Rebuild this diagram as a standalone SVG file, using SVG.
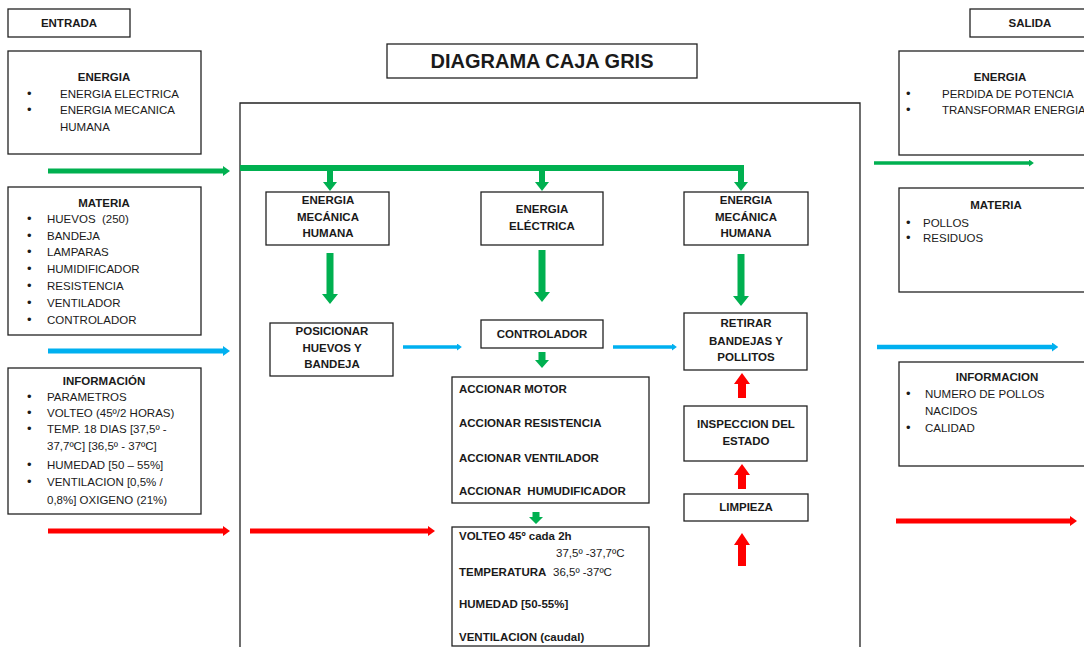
<svg xmlns="http://www.w3.org/2000/svg" width="1084" height="647" viewBox="0 0 1084 647">
<style>
.box{fill:#fff;stroke:#222;stroke-width:1.3}
.t{font-family:"Liberation Sans",Arial,sans-serif;font-size:11.5px;fill:#1a1a1a}
.u{font-family:"Liberation Sans",Arial,sans-serif;font-size:13px;fill:#1a1a1a}
.b{font-weight:bold}
.c{text-anchor:middle}
.g{stroke:#00B050;fill:none}
.bl{stroke:#00B0F0;fill:none}
.r{stroke:#FF0000;fill:none}
.gf{fill:#00B050}
.rf{fill:#FF0000}
</style>
<defs>
<marker id="mg" viewBox="0 0 10 10" refX="0" refY="5" markerWidth="1.4" markerHeight="2" orient="auto" preserveAspectRatio="none"><path d="M0,0 L10,5 L0,10 z" fill="#00B050"/></marker>
<marker id="mb" viewBox="0 0 10 10" refX="0" refY="5" markerWidth="1.4" markerHeight="2" orient="auto" preserveAspectRatio="none"><path d="M0,0 L10,5 L0,10 z" fill="#00B0F0"/></marker>
<marker id="mr" viewBox="0 0 10 10" refX="0" refY="5" markerWidth="1.4" markerHeight="2" orient="auto" preserveAspectRatio="none"><path d="M0,0 L10,5 L0,10 z" fill="#FF0000"/></marker>
</defs>
<rect width="1084" height="647" fill="#fff"/>

<g id="title"><rect class="box" x="387" y="44" width="310" height="34"/><text class="t b c" x="542" y="68" style="font-size:20px">DIAGRAMA CAJA GRIS</text></g>
<g id="entrada"><rect class="box" x="8" y="9" width="122" height="28"/><text class="t b c" x="69" y="27">ENTRADA</text></g>
<g id="salida"><rect class="box" x="970" y="9" width="122" height="28"/><text class="t b c" x="1030" y="27">SALIDA</text></g>

<g id="in-energia"><rect class="box" x="8" y="51" width="193" height="103"/>
<text class="t b c" x="104" y="81">ENERGIA</text>
<text class="u" x="27" y="98">•</text><text class="t" x="60" y="98">ENERGIA ELECTRICA</text>
<text class="u" x="27" y="114">•</text><text class="t" x="60" y="114">ENERGIA MECANICA</text>
<text class="t" x="60" y="131">HUMANA</text></g>

<g id="in-materia"><rect class="box" x="8" y="187" width="193" height="148"/>
<text class="t b c" x="104" y="207">MATERIA</text>
<text class="u" x="27" y="223">•</text><text class="t" x="47" y="223" xml:space="preserve">HUEVOS  (250)</text>
<text class="u" x="27" y="240">•</text><text class="t" x="47" y="240">BANDEJA</text>
<text class="u" x="27" y="256">•</text><text class="t" x="47" y="256">LAMPARAS</text>
<text class="u" x="27" y="273">•</text><text class="t" x="47" y="273">HUMIDIFICADOR</text>
<text class="u" x="27" y="290">•</text><text class="t" x="47" y="290">RESISTENCIA</text>
<text class="u" x="27" y="307">•</text><text class="t" x="47" y="307">VENTILADOR</text>
<text class="u" x="27" y="324">•</text><text class="t" x="47" y="324">CONTROLADOR</text></g>

<g id="in-info"><rect class="box" x="8" y="368" width="193" height="146"/>
<text class="t b c" x="104" y="385">INFORMACIÓN</text>
<text class="u" x="27" y="401">•</text><text class="t" x="47" y="401">PARAMETROS</text>
<text class="u" x="27" y="417">•</text><text class="t" x="47" y="417">VOLTEO (45º/2 HORAS)</text>
<text class="u" x="27" y="433">•</text><text class="t" x="47" y="433">TEMP. 18 DIAS [37,5º -</text>
<text class="t" x="47" y="450">37,7ºC] [36,5º - 37ºC]</text>
<text class="u" x="27" y="469">•</text><text class="t" x="47" y="469">HUMEDAD [50 – 55%]</text>
<text class="u" x="27" y="486">•</text><text class="t" x="47" y="486">VENTILACION [0,5% /</text>
<text class="t" x="47" y="504">0,8%] OXIGENO (21%)</text></g>

<g id="caja"><path d="M240,660 V103 H860 V660" fill="none" stroke="#222" stroke-width="1.3"/></g>

<g id="emh1"><rect class="box" x="266" y="192" width="123" height="53"/>
<text class="t b c" x="328" y="204">ENERGIA</text><text class="t b c" x="328" y="221">MECÁNICA</text><text class="t b c" x="328" y="237">HUMANA</text></g>
<g id="ee"><rect class="box" x="481" y="192" width="122" height="53"/>
<text class="t b c" x="542" y="213">ENERGIA</text><text class="t b c" x="542" y="230">ELÉCTRICA</text></g>
<g id="emh2"><rect class="box" x="684" y="192" width="124" height="53"/>
<text class="t b c" x="746" y="204">ENERGIA</text><text class="t b c" x="746" y="221">MECÁNICA</text><text class="t b c" x="746" y="237">HUMANA</text></g>
<g id="posicionar"><rect class="box" x="270" y="323" width="123" height="53"/>
<text class="t b c" x="332" y="335">POSICIONAR</text><text class="t b c" x="332" y="352">HUEVOS Y</text><text class="t b c" x="332" y="368">BANDEJA</text></g>
<g id="controlador"><rect class="box" x="481" y="320" width="122" height="28"/>
<text class="t b c" x="542" y="338">CONTROLADOR</text></g>
<g id="accionar"><rect class="box" x="452" y="377" width="197" height="126"/>
<text class="t b" x="459" y="393">ACCIONAR MOTOR</text>
<text class="t b" x="459" y="427">ACCIONAR RESISTENCIA</text>
<text class="t b" x="459" y="462">ACCIONAR VENTILADOR</text>
<text class="t b" x="459" y="495" xml:space="preserve">ACCIONAR  HUMUDIFICADOR</text></g>
<g id="parametros"><rect class="box" x="452" y="527" width="197" height="119"/>
<text class="t b" x="459" y="540">VOLTEO 45º cada 2h</text>
<text class="t" x="556" y="557">37,5º -37,7ºC</text>
<text class="t b" x="459" y="576">TEMPERATURA</text><text class="t" x="553" y="576">36,5º -37ºC</text>
<text class="t b" x="459" y="608">HUMEDAD [50-55%]</text>
<text class="t b" x="459" y="641">VENTILACION (caudal)</text></g>
<g id="retirar"><rect class="box" x="684" y="313" width="123" height="57"/>
<text class="t b c" x="746" y="327">RETIRAR</text><text class="t b c" x="746" y="345">BANDEJAS Y</text><text class="t b c" x="746" y="361">POLLITOS</text></g>
<g id="inspeccion"><rect class="box" x="684" y="406" width="123" height="55"/>
<text class="t b c" x="746" y="428">INSPECCION DEL</text><text class="t b c" x="746" y="445">ESTADO</text></g>
<g id="limpieza"><rect class="box" x="684" y="494" width="124" height="27"/>
<text class="t b c" x="746" y="511">LIMPIEZA</text></g>

<g id="out-energia"><rect class="box" x="899" y="51" width="200" height="104"/>
<text class="t b c" x="1000" y="81">ENERGIA</text>
<text class="u" x="906" y="98">•</text><text class="t" x="942" y="98">PERDIDA DE POTENCIA</text>
<text class="u" x="906" y="114">•</text><text class="t" x="942" y="114">TRANSFORMAR ENERGIA</text></g>
<g id="out-materia"><rect class="box" x="899" y="188" width="200" height="104"/>
<text class="t b c" x="996" y="209">MATERIA</text>
<text class="u" x="906" y="227">•</text><text class="t" x="923" y="227">POLLOS</text>
<text class="u" x="906" y="242">•</text><text class="t" x="923" y="242">RESIDUOS</text></g>
<g id="out-info"><rect class="box" x="899" y="362" width="200" height="104"/>
<text class="t b c" x="997" y="381">INFORMACION</text>
<text class="u" x="906" y="398">•</text><text class="t" x="925" y="398">NUMERO DE POLLOS</text>
<text class="t" x="925" y="415">NACIDOS</text>
<text class="u" x="906" y="432">•</text><text class="t" x="925" y="432">CALIDAD</text></g>

<g id="connectors">
<line class="g" x1="48" y1="171" x2="223" y2="171" stroke-width="5" marker-end="url(#mg)"/>
<line class="bl" x1="48" y1="351" x2="223" y2="351" stroke-width="5" marker-end="url(#mb)"/>
<line class="r" x1="48" y1="531" x2="223" y2="531" stroke-width="5" marker-end="url(#mr)"/>
<line class="r" x1="250" y1="531" x2="428" y2="531" stroke-width="5" marker-end="url(#mr)"/>
<line class="g" x1="874" y1="163" x2="1029" y2="163" stroke-width="3.5" marker-end="url(#mg)"/>
<line class="bl" x1="877" y1="347" x2="1052" y2="347" stroke-width="4.5" marker-end="url(#mb)"/>
<line class="r" x1="896" y1="521" x2="1070" y2="521" stroke-width="5" marker-end="url(#mr)"/>
<line class="bl" x1="403" y1="347" x2="457" y2="347" stroke-width="3.5" marker-end="url(#mb)"/>
<line class="bl" x1="613" y1="347" x2="672" y2="347" stroke-width="3.5" marker-end="url(#mb)"/>
<path class="g" d="M240,168 H741 V183" stroke-width="6"/>
<line class="g" x1="330" y1="168" x2="330" y2="183" stroke-width="6"/>
<line class="g" x1="542" y1="168" x2="542" y2="183" stroke-width="6"/>
<polygon class="gf" points="323,182 337,182 330,191"/>
<polygon class="gf" points="535,182 549,182 542,191"/>
<polygon class="gf" points="734,182 748,182 741,191"/>
<polygon class="gf" points="326.5,253 333.5,253 333.5,294 338,294 330,304 322,294 326.5,294"/>
<polygon class="gf" points="538.5,250 545.5,250 545.5,292 550,292 542,302 534,292 538.5,292"/>
<polygon class="gf" points="737.5,254 744.5,254 744.5,296 749,296 741,306 733,296 737.5,296"/>
<polygon class="gf" points="538.5,352 545.5,352 545.5,360 549,360 542,368 535,360 538.5,360"/>
<polygon class="gf" points="532.5,512 539.5,512 539.5,517 543,517 536,524 529,517 532.5,517"/>
<polygon class="rf" points="738,398 746,398 746,384 750,384 742,373 734,384 738,384"/>
<polygon class="rf" points="738,489 746,489 746,475 750,475 742,464 734,475 738,475"/>
<polygon class="rf" points="738,566 746,566 746,545 750,545 742,533 734,545 738,545"/>
</g>
</svg>
